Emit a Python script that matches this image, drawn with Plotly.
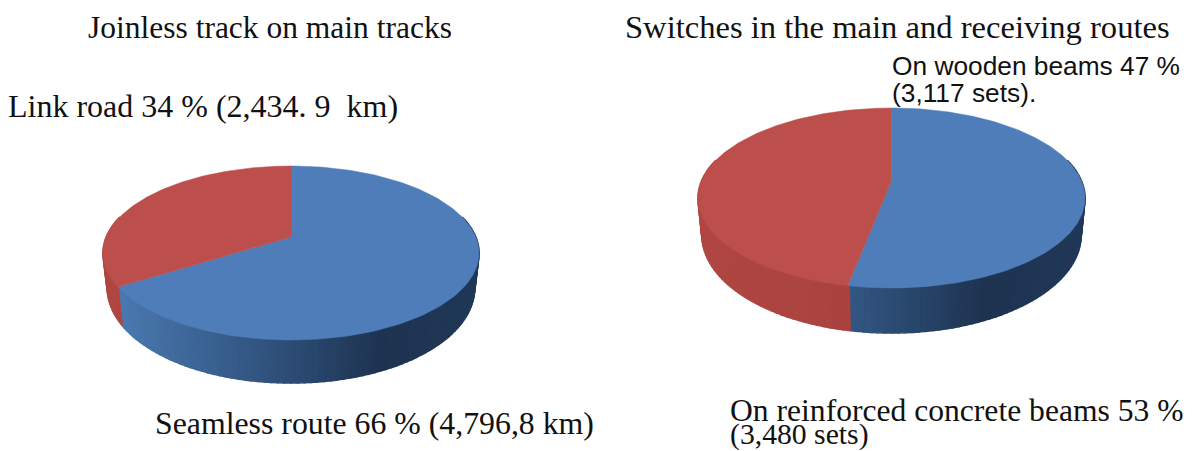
import math
import plotly.graph_objects as go

# Share of each part, in percent, going clockwise from twelve o'clock
track_shares = [66, 34]
switch_shares = [53, 47]
part_names_track = ["Seamless route", "Link road"]
part_names_switch = ["On reinforced concrete beams", "On wooden beams"]

BLUE_TOP = "#4E7DB9"
RED_TOP = "#BC4F4B"
BLUE_WALL = [(0.05, (74, 120, 174)), (0.40, (50, 86, 130)), (0.74, (30, 51, 80)), (1.0, (32, 56, 88))]
RED_WALL = [(0.0, (176, 70, 66)), (1.0, (160, 62, 58))]

# Projection of each disc: centre, apex, near/far rim, and lower rim of the side wall
TRACK_DISC = dict(cx=291, rx=188, apex=237, far=166, near=340, wall_near=383, wall_ratio=1.09, wall_scale=0.977)
SWITCH_DISC = dict(cx=891.5, rx=193.5, apex=181, far=108, near=288, wall_near=333, wall_ratio=1.09, wall_scale=0.98)

TITLES = [
    ("Joinless track on main tracks", 88, 27, "Liberation Serif", 31.5),
    ("Switches in the main and receiving routes", 625, 27, "Liberation Serif", 32.6),
    ("Link road 34 % (2,434. 9\u00a0 km)", 8, 106, "Liberation Serif", 32),
    ("Seamless route 66 % (4,796,8 km)", 155, 423, "Liberation Serif", 31.8),
    ("On reinforced concrete beams 53 %", 730, 410, "Liberation Serif", 31.6),
    ("(3,480 sets)", 730, 434, "Liberation Serif", 29.7),
    ("On wooden beams 47 %", 892, 66, "Liberation Sans", 26.3),
    ("(3,117 sets).", 892, 93, "Liberation Sans", 26.3),
]


def projector(d):
    """Return functions that map a clockwise angle on the disc to its top and lower rim."""
    a, f, n = d["apex"], d["far"], d["near"]
    k = (f + n - 2 * a) / (n - f)
    p = a - f * (1 + k)
    q = d["rx"] * math.sqrt(1 - k * k)
    yc = (f + n) / 2
    ry = (n - f) / 2

    def top(t):
        u, v = math.sin(t), math.cos(t)
        w = 1 + k * v
        return d["cx"] + q * u / w, (a - p * v) / w

    ry_low = ry * d["wall_ratio"]
    yc_low = d["wall_near"] - ry_low

    def low(t):
        x, y = top(t)
        return d["cx"] + d["wall_scale"] * (x - d["cx"]), yc_low + (y - yc) * d["wall_ratio"]

    return top, low


def ramp(stops, f):
    if f <= stops[0][0]:
        c = stops[0][1]
    elif f >= stops[-1][0]:
        c = stops[-1][1]
    else:
        for (f0, c0), (f1, c1) in zip(stops, stops[1:]):
            if f0 <= f <= f1:
                s = (f - f0) / (f1 - f0)
                c = tuple(c0[i] + s * (c1[i] - c0[i]) for i in range(3))
                break
    return "rgb(%d,%d,%d)" % tuple(round(v) for v in c)


def add_disc(fig, shares, names, d):
    top, low = projector(d)
    total = sum(shares)
    split = 2 * math.pi * shares[0] / total
    left = d["cx"] - d["rx"]

    # Side wall, drawn as narrow strips so the shading can change along the rim
    strips = 120
    for i in range(strips):
        t0 = math.pi * 0.42 + i / strips * math.pi * 1.16
        t1 = math.pi * 0.42 + (i + 1) / strips * math.pi * 1.16
        mid = (t0 + t1) / 2
        pts = [top(t0), top(t1), low(t1), low(t0), top(t0)]
        frac = (top(mid)[0] - left) / (2 * d["rx"])
        colour = ramp(BLUE_WALL if mid < split else RED_WALL, frac)
        fig.add_trace(go.Scatter(
            x=[p[0] for p in pts], y=[p[1] for p in pts], mode="lines", fill="toself",
            fillcolor=colour, line=dict(color=colour, width=1.6), hoverinfo="skip", showlegend=False,
        ))

    # Upper faces of the two parts
    ranges = [(0.0, split, BLUE_TOP), (split, 2 * math.pi, RED_TOP)]
    for (start, end, colour), name in zip(ranges, names):
        n = 160
        rim = [top(start + (end - start) * j / n) for j in range(n + 1)]
        xs = [d["cx"]] + [p[0] for p in rim] + [d["cx"]]
        ys = [d["apex"]] + [p[1] for p in rim] + [d["apex"]]
        fig.add_trace(go.Scatter(
            x=xs, y=ys, mode="lines", fill="toself", fillcolor=colour,
            line=dict(color=colour, width=0.5), name=name, hoverinfo="name", showlegend=False,
        ))


fig = go.Figure()
add_disc(fig, track_shares, part_names_track, TRACK_DISC)
add_disc(fig, switch_shares, part_names_switch, SWITCH_DISC)

for text, x, y, family, size in TITLES:
    fig.add_annotation(
        x=x, y=y, text=text, showarrow=False, xanchor="left", yanchor="middle", xshift=-1,
        borderpad=0, font=dict(family=family, size=size, color="#111111"),
    )

fig.update_layout(
    width=1194, height=451, margin=dict(l=0, r=0, t=0, b=0),
    paper_bgcolor="white", plot_bgcolor="white", showlegend=False,
    xaxis=dict(range=[0, 1194], visible=False, fixedrange=True),
    yaxis=dict(range=[451, 0], visible=False, fixedrange=True),
)
fig.write_html("out.html", config=dict(displayModeBar=False))
